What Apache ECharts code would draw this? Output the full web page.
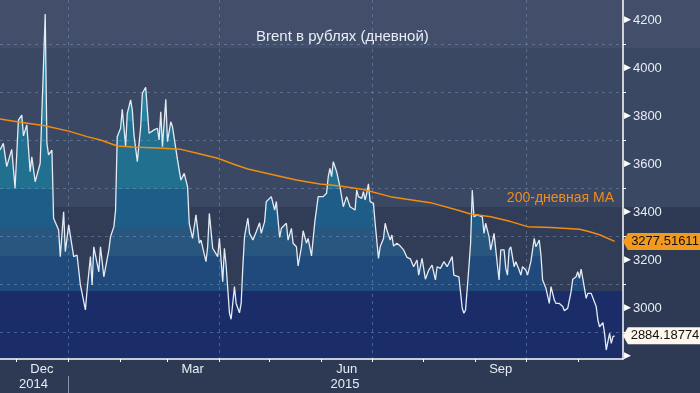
<!DOCTYPE html>
<html><head><meta charset="utf-8">
<script src="https://cdn.jsdelivr.net/npm/echarts@6/dist/echarts.min.js"></script>
<style>html,body{margin:0;padding:0;background:#2e3a54;}#chart{width:700px;height:393px;}</style>
</head><body><div id="chart"></div>
<script>
// ---- axis range ----
const axisStart = '2014-11-21';
const axisEnd = '2015-11-28';
const yMin = 2787.5;
const yMax = 4283.3;

// ---- Brent in rubles (daily) ----
const priceDates = [
'2014-11-21','2014-11-23','2014-11-25','2014-11-28','2014-11-30','2014-12-02','2014-12-04','2014-12-05','2014-12-07','2014-12-09',
'2014-12-10','2014-12-12','2014-12-15','2014-12-18','2014-12-19','2014-12-20','2014-12-22','2014-12-23','2014-12-24','2014-12-26',
'2014-12-27','2014-12-29','2014-12-30','2015-01-01','2015-01-02','2015-01-04','2015-01-06','2015-01-08','2015-01-09','2015-01-11',
'2015-01-12','2015-01-14','2015-01-15','2015-01-16','2015-01-19','2015-01-20','2015-01-22','2015-01-23','2015-01-25','2015-01-26',
'2015-01-28','2015-01-29','2015-01-30','2015-02-01','2015-02-02','2015-02-04','2015-02-05','2015-02-07','2015-02-08','2015-02-09',
'2015-02-11','2015-02-13','2015-02-14','2015-02-16','2015-02-18','2015-02-21','2015-02-23','2015-02-24','2015-02-25','2015-02-26',
'2015-02-28','2015-03-01','2015-03-03','2015-03-04','2015-03-07','2015-03-09','2015-03-10','2015-03-11','2015-03-13','2015-03-14',
'2015-03-16','2015-03-18','2015-03-20','2015-03-21','2015-03-22','2015-03-24','2015-03-25','2015-03-26','2015-03-28','2015-03-29',
'2015-03-31','2015-04-01','2015-04-03','2015-04-04','2015-04-05','2015-04-07','2015-04-08','2015-04-10','2015-04-11','2015-04-13',
'2015-04-14','2015-04-15','2015-04-16','2015-04-18','2015-04-19','2015-04-21','2015-04-23','2015-04-25','2015-04-26','2015-04-28',
'2015-04-29','2015-04-30','2015-05-02','2015-05-04','2015-05-05','2015-05-07','2015-05-08','2015-05-11','2015-05-12','2015-05-14',
'2015-05-15','2015-05-17','2015-05-18','2015-05-20','2015-05-21','2015-05-23','2015-05-24','2015-05-26','2015-05-28','2015-05-30',
'2015-05-31','2015-06-02','2015-06-04','2015-06-05','2015-06-06','2015-06-07','2015-06-08','2015-06-10','2015-06-11','2015-06-12',
'2015-06-14','2015-06-15','2015-06-16','2015-06-18','2015-06-19','2015-06-21','2015-06-22','2015-06-23','2015-06-25','2015-06-26',
'2015-06-27','2015-06-28','2015-06-29','2015-06-30','2015-07-02','2015-07-03','2015-07-05','2015-07-06','2015-07-08','2015-07-09',
'2015-07-10','2015-07-12','2015-07-13','2015-07-14','2015-07-16','2015-07-18','2015-07-20','2015-07-21','2015-07-22','2015-07-24',
'2015-07-26','2015-07-28','2015-07-29','2015-07-31','2015-08-02','2015-08-04','2015-08-06','2015-08-08','2015-08-09','2015-08-11',
'2015-08-13','2015-08-15','2015-08-18','2015-08-19','2015-08-22','2015-08-24','2015-08-25','2015-08-26','2015-08-28','2015-08-29',
'2015-08-30','2015-08-31','2015-09-02','2015-09-03','2015-09-05','2015-09-06','2015-09-07','2015-09-09','2015-09-10','2015-09-12',
'2015-09-14','2015-09-15','2015-09-16','2015-09-18','2015-09-19','2015-09-20','2015-09-21','2015-09-22','2015-09-24','2015-09-25',
'2015-09-27','2015-09-28','2015-09-29','2015-10-01','2015-10-02','2015-10-04','2015-10-05','2015-10-06','2015-10-07','2015-10-09',
'2015-10-10','2015-10-11','2015-10-13','2015-10-14','2015-10-15','2015-10-16','2015-10-18','2015-10-19','2015-10-21','2015-10-23',
'2015-10-24','2015-10-26','2015-10-28','2015-10-29','2015-10-31','2015-11-01','2015-11-02','2015-11-03','2015-11-05','2015-11-06',
'2015-11-07','2015-11-09','2015-11-10','2015-11-12','2015-11-13','2015-11-14','2015-11-16','2015-11-17','2015-11-18','2015-11-20',
'2015-11-21','2015-11-22','2015-11-23'
];
const priceValues = [
3658,3686,3589,3661,3499,3783,3804,3717,3763,3568,
3630,3526,3603,4225,3686,3638,3658,3374,3380,3325,
3214,3401,3235,3346,3346,3214,3221,3096,3096,2992,
3075,3214,3096,3255,3151,3255,3130,3130,3242,3297,
3339,3408,3714,3749,3828,3675,3811,3867,3825,3721,
3610,3755,3895,3920,3728,3742,3749,3700,3818,3672,
3870,3693,3776,3755,3617,3533,3526,3561,3505,3353,
3290,3388,3270,3283,3290,3193,3255,3394,3249,3249,
3214,3290,3110,3249,3179,2980,2953,3089,3019,2980,
3019,3172,3297,3374,3311,3283,3318,3355,3311,3360,
3443,3450,3464,3408,3443,3294,3332,3353,3283,3332,
3270,3255,3175,3255,3322,3270,3290,3217,3360,3464,
3471,3464,3478,3547,3582,3547,3610,3568,3561,3505,
3422,3429,3464,3422,3415,3408,3492,3464,3457,3485,
3450,3478,3517,3443,3436,3353,3207,3255,3290,3353,
3325,3283,3304,3258,3270,3258,3242,3249,3211,3205,
3172,3200,3137,3207,3120,3158,3179,3117,3172,3165,
3193,3172,3214,3137,3130,2999,2978,2992,3172,3270,
3492,3380,3388,3380,3380,3311,3353,3297,3242,3311,
3179,3117,3242,3242,3165,3137,3242,3255,3172,3193,
3158,3137,3172,3158,3137,3193,3200,3290,3255,3283,
3221,3117,3082,3089,3019,3089,3033,3019,3019,3006,
2989,2999,3068,3120,3130,3151,3124,3162,3082,3040,
3061,3061,3068,3006,2950,2922,2939,2894,2825,2894,
2853,2881,2884.18774
];

// ---- 200-day moving average ----
const maDates = [
'2014-11-21','2014-12-03','2014-12-17','2015-01-01','2015-01-12','2015-01-20','2015-01-30','2015-02-08','2015-02-23','2015-03-09',
'2015-03-20','2015-03-31','2015-04-10','2015-04-18','2015-05-01','2015-05-17','2015-05-31','2015-06-12','2015-06-26','2015-07-12',
'2015-07-22','2015-08-05','2015-08-21','2015-08-29','2015-09-10','2015-09-22','2015-10-02','2015-10-16','2015-11-02','2015-11-07',
'2015-11-14','2015-11-23'
];
const maValues = [
3787,3774,3760,3737,3714,3700,3675,3671,3667,3661,
3643,3624,3598,3579,3558,3533,3517,3508,3494,3464,
3453,3439,3408,3392,3380,3360,3339,3335,3328,3320,
3305,3277.51611
];

// ---- tick labels ----
const yLabelValues = [2800,3000,3200,3400,3600,3800,4000,4200];
const yMinorTickValues = [2900,3100,3300,3500,3700,3900,4100];
const monthLabelDates = ['2014-12-16','2015-03-16','2015-06-16','2015-09-16'];
const monthLabelTexts = ['Dec','Mar','Jun','Sep'];
const yearLabelDates = ['2014-12-11','2015-06-15'];
const yearLabelTexts = ['2014','2015'];
const quarterStartDates = ['2015-01-01','2015-04-01','2015-07-01','2015-10-01'];
const yearStartDates = ['2015-01-01'];

// ---- shading bands (values) and their colours ----
const fillEdges = [3071,3217,3339,3496,3780];
const fillColors = ['#1b2d68','#1f4a7b','#28567f','#1e5d87','#21708f','#2781a1'];
const outerBandEdges = [3421,4083];
const outerBandColors = ['#3b4864','#434f6a'];
const innerBandEdges = [3071,3421];
const innerBandColors = ['#1b2d68','#313c57'];

const FONT = '"Liberation Sans", Arial, sans-serif';

// category axis of calendar days
const days = [];
for (let t = Date.parse(axisStart); t <= Date.parse(axisEnd); t += 86400000) {
  days.push(new Date(t).toISOString().slice(0, 10));
}
const pricePairs = priceDates.map((d, i) => [d, priceValues[i]]);
const maPairs = maDates.map((d, i) => [d, maValues[i]]);
const lastPrice = priceValues[priceValues.length - 1];
const lastMA = maValues[maValues.length - 1];

const pieces = [];
for (let i = 0; i < fillColors.length; i++) {
  const p = { color: fillColors[i] };
  if (i > 0) p.gte = fillEdges[i - 1];
  if (i < fillEdges.length) p.lt = fillEdges[i];
  pieces.push(p);
}

const tagPath = 'path://M0,8 L5,0 L80,0 L80,16 L5,16 Z';

const chart = echarts.init(document.getElementById('chart'), null, { renderer: 'canvas' });
chart.setOption({
  animation: false,
  backgroundColor: '#2e3a54',
  textStyle: { fontFamily: FONT },
  title: [
    { text: 'Brent в рублях (дневной)', left: 256, top: 29, padding: 0,
      textStyle: { color: '#e8eef6', fontSize: 15, fontWeight: 'normal', fontFamily: FONT } },
    { text: '200-дневная MA', right: 86, top: 191, padding: 0,
      textStyle: { color: '#f08c1e', fontSize: 14, fontWeight: 'normal', fontFamily: FONT } }
  ],
  grid: [
    { left: 0, right: 77, top: 0, bottom: 34, containLabel: false },
    { left: 0, right: 0, top: 0, bottom: 34, containLabel: false }
  ],
  visualMap: {
    show: false, type: 'piecewise', seriesIndex: 1, dimension: 1, pieces: pieces
  },
  xAxis: [
    {
      type: 'category', gridIndex: 0, data: days, boundaryGap: false, z: 3,
      axisLine: { show: true, lineStyle: { color: '#ffffff', width: 1.5 } },
      axisTick: { show: true, length: 3, interval: (i, v) => v.slice(8) === '01',
        lineStyle: { color: '#ffffff', width: 1 } },
      axisLabel: { show: true, margin: 4, interval: (i, v) => monthLabelDates.indexOf(v) >= 0,
        formatter: v => monthLabelTexts[monthLabelDates.indexOf(v)] || '',
        color: '#e6edf6', fontSize: 13, fontFamily: FONT },
      splitLine: { show: true, interval: (i, v) => quarterStartDates.indexOf(v) >= 0,
        lineStyle: { color: 'rgba(120,150,190,0.5)', type: [3, 4], width: 1 } }
    },
    {
      type: 'category', gridIndex: 0, data: days, boundaryGap: false, position: 'bottom', offset: 17, z: 3,
      axisLine: { show: false },
      axisTick: { show: true, length: 17, interval: (i, v) => yearStartDates.indexOf(v) >= 0,
        lineStyle: { color: '#8793a6', width: 1 } },
      axisLabel: { show: true, margin: 2, interval: (i, v) => yearLabelDates.indexOf(v) >= 0,
        formatter: v => yearLabelTexts[yearLabelDates.indexOf(v)] || '',
        color: '#e6edf6', fontSize: 13, fontFamily: FONT },
      splitLine: { show: false }
    },
    { type: 'value', gridIndex: 1, min: 0, max: 1, show: false }
  ],
  yAxis: [
    {
      type: 'value', gridIndex: 0, position: 'right', min: yMin, max: yMax,
      minInterval: 200, maxInterval: 200, z: 3,
      axisLine: { show: true, lineStyle: { color: '#ffffff', width: 1.5 } },
      axisTick: { show: true, inside: false, length: 3, customValues: yMinorTickValues,
        lineStyle: { color: '#ffffff', width: 1 } },
      axisLabel: {
        show: true, margin: 1, customValues: yLabelValues,
        formatter: v => (v === yLabelValues[0] ? '{t|▶}' : '{t|▶}{v|' + v + '}'),
        rich: {
          t: { color: '#ffffff', fontSize: 9, fontFamily: 'DejaVu Sans' },
          v: { color: '#e6edf6', fontSize: 13, fontFamily: FONT, padding: [0, 0, 0, 2] }
        }
      },
      splitLine: { show: true, lineStyle: { color: 'rgba(120,150,190,0.5)', type: [3, 4], width: 1 } }
    },
    { type: 'value', gridIndex: 1, min: yMin, max: yMax, show: false }
  ],
  series: [
    {
      // full-width background bands
      type: 'line', xAxisIndex: 2, yAxisIndex: 1, data: [], silent: true,
      markArea: {
        silent: true,
        data: [
          [{ yAxis: outerBandEdges[0], itemStyle: { color: outerBandColors[0] } }, { yAxis: outerBandEdges[1] }],
          [{ yAxis: outerBandEdges[1], itemStyle: { color: outerBandColors[1] } }, { yAxis: yMax }]
        ]
      }
    },
    {
      // area under the Brent line (banded fill via visualMap)
      name: 'fill', type: 'line', xAxisIndex: 0, yAxisIndex: 0, data: pricePairs,
      showSymbol: false, silent: true, z: 2,
      lineStyle: { width: 0, opacity: 0 },
      areaStyle: { opacity: 1 }
    },
    {
      name: 'Brent', type: 'line', xAxisIndex: 0, yAxisIndex: 0, data: pricePairs,
      showSymbol: false, silent: true, z: 4,
      lineStyle: { color: '#e4ebf3', width: 1.3 },
      markPoint: {
        silent: true,
        data: [{ coord: [axisEnd, lastPrice], value: lastPrice }],
        symbol: tagPath, symbolSize: [78, 17], symbolKeepAspect: false, symbolOffset: ['50%', 0],
        itemStyle: { color: '#fff7ec' },
        label: { show: true, position: 'inside', offset: [3, 0], color: '#111111', fontSize: 13, fontFamily: FONT,
          formatter: () => String(lastPrice) }
      }
    },
    {
      name: 'MA200', type: 'line', xAxisIndex: 0, yAxisIndex: 0, data: maPairs,
      showSymbol: false, silent: true, z: 5,
      lineStyle: { color: '#f28c0f', width: 1.5 },
      markArea: {
        silent: true,
        data: [
          [{ yAxis: yMin, itemStyle: { color: innerBandColors[0] } }, { yAxis: innerBandEdges[0] }],
          [{ yAxis: innerBandEdges[0], itemStyle: { color: innerBandColors[1] } }, { yAxis: innerBandEdges[1] }]
        ]
      },
      markPoint: {
        silent: true,
        data: [{ coord: [axisEnd, lastMA], value: lastMA }],
        symbol: tagPath, symbolSize: [78, 17], symbolKeepAspect: false, symbolOffset: ['50%', 0],
        itemStyle: { color: '#f39a1e' },
        label: { show: true, position: 'inside', offset: [3, 0], color: '#111111', fontSize: 13, fontFamily: FONT,
          formatter: () => String(lastMA) }
      }
    }
  ]
});
</script>
</body></html>
